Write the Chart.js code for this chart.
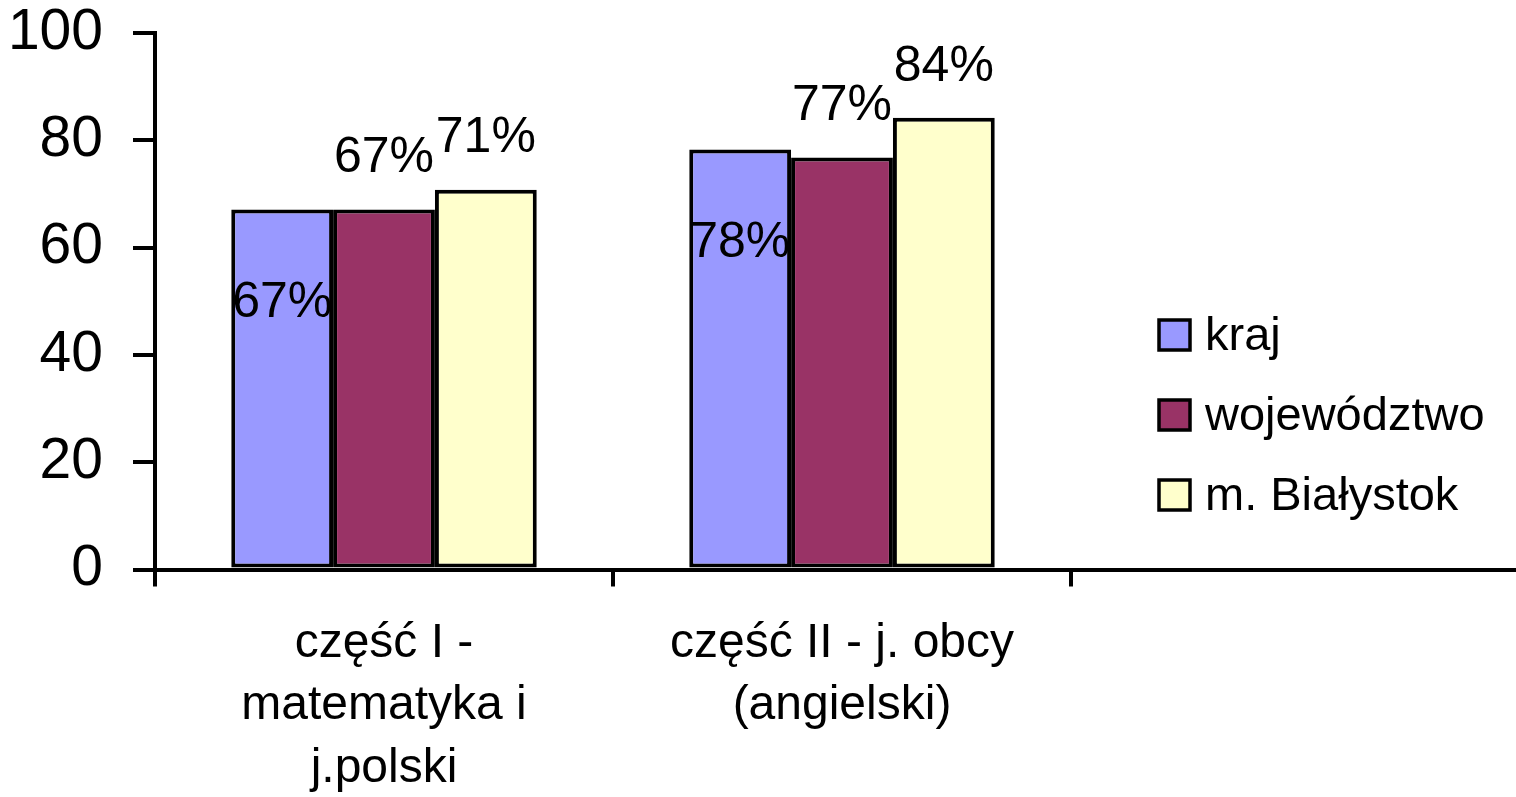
<!DOCTYPE html>
<html lang="pl">
<head>
<meta charset="UTF-8">
<title>Wyniki</title>
<script src="https://cdn.jsdelivr.net/npm/chart.js"></script>
<style>
    html, body {
        margin: 0;
        padding: 0;
        background: #ffffff;
        overflow: hidden;
    }
    #wrap {
        width: 1530px;
        height: 797px;
    }
</style>
</head>
<body>
<div id="wrap"><canvas id="chart" width="1530" height="797"></canvas></div>
<script>
// dane
const categories = [['część I -', 'matematyka i', 'j.polski'], ['część II - j. obcy', '(angielski)'], ''];
const seriesNames = ['kraj', 'województwo', 'm. Białystok'];
const kraj = [67.1, 78.3, null];
const wojewodztwo = [67.1, 76.8, null];
const bialystok = [70.8, 84.2, null];
const seriesColors = ['#9999FF', '#993366', '#FFFFCC'];

const FONT = "'Liberation Sans', Arial, sans-serif";

// etykiety wartości (kraj w środku słupka, reszta nad słupkiem)
const valueLabels = {
    id: 'valueLabels',
    afterDatasetsDraw(chart) {
        const ctx = chart.ctx;
        ctx.save();
        ctx.font = '50px ' + FONT;
        ctx.fillStyle = '#000';
        ctx.textAlign = 'center';
        ctx.textBaseline = 'middle';
        chart.data.datasets.forEach((ds, i) => {
            const meta = chart.getDatasetMeta(i);
            meta.data.forEach((bar, j) => {
                const v = ds.data[j];
                if (v == null) return;
                const y = i === 0 ? bar.y + 94 : bar.y - 51;
                ctx.fillText(Math.round(v) + '%', bar.x, y);
            });
        });
        ctx.restore();
    }
};

// legenda w stylu Excela, nachodząca na obszar wykresu
const sideLegend = {
    id: 'sideLegend',
    afterDraw(chart) {
        const ctx = chart.ctx;
        ctx.save();
        ctx.font = '47px ' + FONT;
        ctx.textAlign = 'left';
        ctx.textBaseline = 'middle';
        chart.data.datasets.forEach((ds, i) => {
            const cy = 335 + i * 80;
            ctx.fillStyle = ds.backgroundColor;
            ctx.fillRect(1159, cy - 15, 31, 30);
            ctx.lineWidth = 3.5;
            ctx.strokeStyle = '#000';
            ctx.strokeRect(1159, cy - 15, 31, 30);
            ctx.fillStyle = '#000';
            ctx.fillText(ds.label, 1205, cy + 2);
        });
        ctx.restore();
    }
};

const series = [kraj, wojewodztwo, bialystok];

new Chart(document.getElementById('chart'), {
    type: 'bar',
    data: {
        labels: categories,
        datasets: series.map((d, i) => ({
            label: seriesNames[i],
            data: d,
            backgroundColor: seriesColors[i],
            borderColor: '#000',
            borderWidth: 4,
            borderSkipped: false,
            categoryPercentage: 0.667,
            barPercentage: 1.0
        }))
    },
    options: {
        responsive: false,
        animation: false,
        devicePixelRatio: 1,
        layout: { padding: { top: 33, right: 1, left: 0, bottom: 0 } },
        plugins: {
            legend: { display: false },
            tooltip: { enabled: false }
        },
        scales: {
            x: {
                afterFit(s) {
                    s.height = 797 - 569.5 - 0;
                    s.paddingLeft = 0;
                    s.paddingRight = 0;
                },
                grid: {
                    drawOnChartArea: false,
                    color: '#000',
                    lineWidth: 4,
                    tickLength: 17
                },
                border: { color: '#000', width: 4 },
                ticks: {
                    color: '#000',
                    font: { family: FONT, size: 48, lineHeight: 1.3 },
                    padding: 26,
                    maxRotation: 0,
                    autoSkip: false
                }
            },
            y: {
                min: 0,
                max: 100,
                afterFit(s) {
                    s.width = 155;
                    s.paddingTop = 0;
                    s.paddingBottom = 0;
                },
                grid: {
                    drawOnChartArea: false,
                    color: '#000',
                    lineWidth: 4,
                    tickLength: 22
                },
                border: { color: '#000', width: 4 },
                ticks: {
                    stepSize: 20,
                    color: '#000',
                    font: { family: FONT, size: 57 },
                    padding: 30
                }
            }
        }
    },
    plugins: [valueLabels, sideLegend]
});
</script>
</body>
</html>
